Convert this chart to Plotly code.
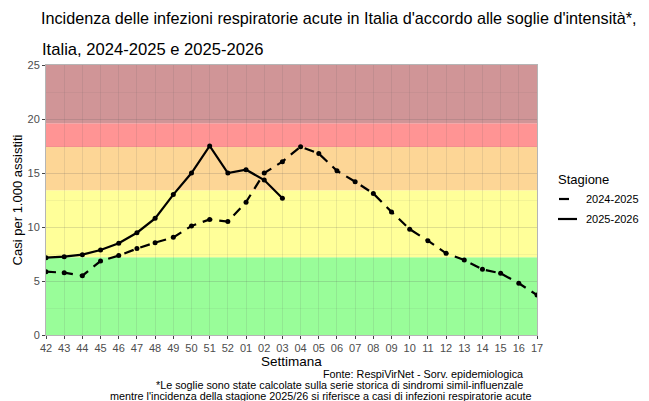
import plotly.graph_objects as go

# ---- data ----
weeks = ["42", "43", "44", "45", "46", "47", "48", "49", "50", "51", "52",
         "01", "02", "03", "04", "05", "06", "07", "08", "09", "10", "11",
         "12", "13", "14", "15", "16", "17"]
season_2024_2025 = [5.86, 5.77, 5.49, 6.85, 7.35, 8.0, 8.55, 9.04, 10.1, 10.7, 10.5,
                    12.3, 15.0, 16.05, 17.44, 16.8, 15.2, 14.2, 13.1, 11.4, 9.8, 8.73,
                    7.56, 6.94, 6.08, 5.71, 4.79, 3.7]
season_2025_2026 = [7.16, 7.25, 7.44, 7.87, 8.49, 9.47, 10.8, 13.0, 15.0, 17.5, 15.0,
                    15.3, 14.35, 12.66]
band_edges = [0, 7.2, 13.4, 17.4, 19.6, 25]
band_colors = ["#99fd99", "#ffff99", "#fdd696", "#ff9494", "#d09597"]
y_ticks = [0, 5, 10, 15, 20, 25]

# ---- geometry helpers (pixel -> paper) ----
L, R, T, B = 46, 537, 65, 335
W, H = 649, 401


def px(x):
    return (x - L) / (R - L)


def py(y):
    return (B - y) / (B - T)


FONT = "Liberation Sans, Arial, sans-serif"

fig = go.Figure()

fig.add_trace(go.Scatter(
    x=weeks, y=season_2024_2025, mode="lines+markers", name="2024-2025",
    line=dict(color="black", width=2.2, dash="10px,7px"),
    marker=dict(color="black", size=5), showlegend=False))
fig.add_trace(go.Scatter(
    x=weeks[:len(season_2025_2026)], y=season_2025_2026, mode="lines+markers",
    name="2025-2026",
    line=dict(color="black", width=2.2),
    marker=dict(color="black", size=5), showlegend=False))

shapes = []
for i, c in enumerate(band_colors):
    shapes.append(dict(type="rect", xref="paper", yref="y", x0=0, x1=1,
                       y0=band_edges[i], y1=band_edges[i + 1],
                       fillcolor=c, line=dict(width=0), layer="below"))

# manual legend
shapes.append(dict(type="line", xref="paper", yref="paper",
                   x0=px(559), x1=px(569), y0=py(199), y1=py(199),
                   line=dict(color="black", width=2.2)))
shapes.append(dict(type="line", xref="paper", yref="paper",
                   x0=px(558), x1=px(577), y0=py(219), y1=py(219),
                   line=dict(color="black", width=2.2)))

annotations = [
    dict(text="Incidenza delle infezioni respiratorie acute in Italia d'accordo alle soglie d'intensità*,",
         x=px(39), y=py(18), xref="paper", yref="paper", xanchor="left", yanchor="middle",
         showarrow=False, font=dict(size=16.2, color="black", family=FONT)),
    dict(text="Italia, 2024-2025 e 2025-2026",
         x=px(40), y=py(50), xref="paper", yref="paper", xanchor="left", yanchor="middle",
         showarrow=False, font=dict(size=16.6, color="black", family=FONT)),
    dict(text="Fonte: RespiVirNet - Sorv. epidemiologica",
         x=px(525), y=py(374), xref="paper", yref="paper", xanchor="right", yanchor="middle",
         showarrow=False, font=dict(size=10.8, color="black", family=FONT)),
    dict(text="*Le soglie sono state calcolate sulla serie storica di sindromi simil-influenzale",
         x=px(525), y=py(385), xref="paper", yref="paper", xanchor="right", yanchor="middle",
         showarrow=False, font=dict(size=10.8, color="black", family=FONT)),
    dict(text="mentre l'incidenza della stagione 2025/26 si riferisce a casi di infezioni respiratorie acute",
         x=px(534), y=py(395.5), xref="paper", yref="paper", xanchor="right", yanchor="middle",
         showarrow=False, font=dict(size=10.8, color="black", family=FONT)),
    dict(text="Stagione", x=px(556), y=py(179), xref="paper", yref="paper",
         xanchor="left", yanchor="middle", showarrow=False,
         font=dict(size=13, color="black", family=FONT)),
    dict(text="2024-2025", x=px(584), y=py(199), xref="paper", yref="paper",
         xanchor="left", yanchor="middle", showarrow=False,
         font=dict(size=11, color="black", family=FONT)),
    dict(text="2025-2026", x=px(584), y=py(219), xref="paper", yref="paper",
         xanchor="left", yanchor="middle", showarrow=False,
         font=dict(size=11, color="black", family=FONT)),
]

grid_col = "rgba(90,90,90,0.13)"
fig.update_layout(
    width=W, height=H,
    margin=dict(l=L, r=W - R, t=T, b=H - B, pad=0),
    paper_bgcolor="white", plot_bgcolor="white",
    font=dict(family=FONT),
    shapes=shapes, annotations=annotations,
    showlegend=False,
    xaxis=dict(type="category", categoryorder="array", categoryarray=weeks,
               range=[0, len(weeks) - 1],
               tickmode="array", tickvals=weeks, ticktext=weeks,
               showgrid=True, gridcolor=grid_col, gridwidth=1,
               ticks="outside", ticklen=3, tickcolor="#444", tickwidth=1,
               tickfont=dict(size=11, color="#4d4d4d", family=FONT),
               showline=True, linecolor="#b5b5b5", linewidth=1, mirror=True,
               title=dict(text="Settimana", font=dict(size=13.5, color="black", family=FONT),
                          standoff=2),
               zeroline=False),
    yaxis=dict(range=[0, 25], tickmode="array", tickvals=y_ticks,
               showgrid=True, gridcolor=grid_col, gridwidth=1,
               minor=dict(dtick=2.5, showgrid=True, gridcolor="rgba(90,90,90,0.07)", gridwidth=1),
               ticks="outside", ticklen=3, tickcolor="#444", tickwidth=1,
               tickfont=dict(size=11, color="#4d4d4d", family=FONT),
               showline=True, linecolor="#b5b5b5", linewidth=1, mirror=True,
               title=dict(text="Casi per 1.000 assistiti",
                          font=dict(size=13, color="black", family=FONT), standoff=1),
               zeroline=False),
)

fig.write_html("out.html", config={"displayModeBar": False},
               post_script="document.body.style.margin='0px';document.body.style.overflow='hidden';")
